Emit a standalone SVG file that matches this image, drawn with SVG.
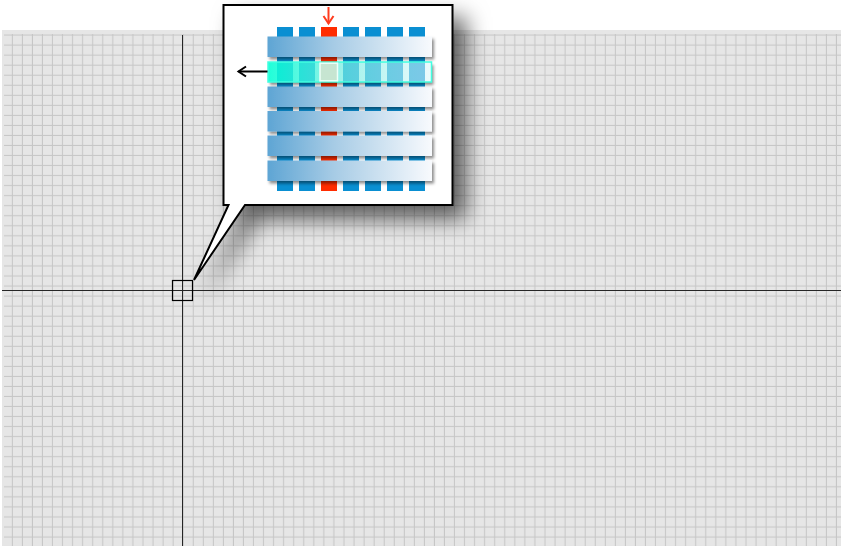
<svg xmlns="http://www.w3.org/2000/svg" width="841" height="546" viewBox="0 0 841 546">
  <style>
    .axis { stroke: #262626; stroke-width: 1; fill: none; }
    .col { fill: #0a8fd2; }
    .colred { fill: #ff2c00; }
    .band { fill: url(#bandGrad); }
  </style>
  <defs>
    <pattern id="grid" patternUnits="userSpaceOnUse" x="2.8" y="25.5" width="10.05" height="10.04">
      <line x1="10" y1="0" x2="10" y2="10.04" stroke="#c6c6c6" stroke-width="2"/>
      <line x1="0" y1="10" x2="10.05" y2="10" stroke="#c6c6c6" stroke-width="2"/>
    </pattern>
    <linearGradient id="bandGrad" x1="0" y1="0" x2="1" y2="0">
      <stop offset="0" stop-color="#5ea5d4"/>
      <stop offset="0.4" stop-color="#a6cbe5"/>
      <stop offset="1" stop-color="#f8fafd"/>
    </linearGradient>
    <linearGradient id="cyanGrad" x1="0" y1="0" x2="1" y2="0">
      <stop offset="0" stop-color="#00ffd4" stop-opacity="0.88"/>
      <stop offset="0.45" stop-color="#70ece0" stop-opacity="0.7"/>
      <stop offset="1" stop-color="#dcf6fa" stop-opacity="0.55"/>
    </linearGradient>
    <filter id="callShadow" x="-30%" y="-30%" width="170%" height="170%">
      <feDropShadow dx="13" dy="13" stdDeviation="11" flood-color="#000" flood-opacity="0.6"/>
    </filter>
    <filter id="bandShadow" x="-10%" y="-50%" width="120%" height="200%">
      <feDropShadow dx="2" dy="2.5" stdDeviation="1.5" flood-color="#000" flood-opacity="0.45"/>
    </filter>
    <filter id="shadowOnly" x="-10%" y="-50%" width="120%" height="200%">
      <feGaussianBlur in="SourceAlpha" stdDeviation="1.5"/>
      <feOffset dx="2" dy="2.5"/>
      <feComponentTransfer><feFuncA type="linear" slope="0.45"/></feComponentTransfer>
      <feComposite in2="SourceAlpha" operator="out"/>
    </filter>
  </defs>

  <g id="background">
    <rect x="0" y="0" width="841" height="546" fill="#ffffff"/>
    <rect x="2" y="30" width="839" height="516" fill="#e6e6e6"/>
    <rect x="4" y="34" width="837" height="512" fill="url(#grid)"/>
  </g>

  <g id="axes">
    <line class="axis" x1="182.5" y1="35" x2="182.5" y2="546"/>
    <line class="axis" x1="2" y1="290.5" x2="841" y2="290.5"/>
  </g>

  <g id="marker-square">
    <rect x="172.5" y="280.5" width="20" height="20" fill="none" stroke="#000" stroke-width="1.2"/>
  </g>

  <g id="callout">
    <path d="M223.5,5 H452.5 V205 H245 L194,280 L228.5,205 H223.5 Z" fill="#ffffff" stroke="#000000" stroke-width="2" stroke-linejoin="miter" filter="url(#callShadow)"/>
  </g>

  <g id="matrix">
    <g id="columns">
      <rect class="col" x="277" y="27" width="16" height="164"/>
      <rect class="col" x="299" y="27" width="16" height="164"/>
      <rect class="colred" x="321" y="27" width="16" height="164"/>
      <rect class="col" x="343" y="27" width="16" height="164"/>
      <rect class="col" x="365" y="27" width="16" height="164"/>
      <rect class="col" x="387" y="27" width="16" height="164"/>
      <rect class="col" x="409" y="27" width="16" height="164"/>
    </g>
    <g id="bands" filter="url(#bandShadow)">
      <rect class="band" x="267.5" y="36.5" width="164.5" height="20.5"/>
      <rect class="band" x="267.5" y="86.5" width="164.5" height="20.5"/>
      <rect class="band" x="267.5" y="111" width="164.5" height="20.5"/>
      <rect class="band" x="267.5" y="135.5" width="164.5" height="20.5"/>
      <rect class="band" x="267.5" y="160.5" width="164.5" height="20.5"/>
    </g>
    <g id="selected-row">
      <rect x="268" y="62" width="163.5" height="20" fill="#000" filter="url(#shadowOnly)"/>
      <rect x="268" y="62" width="163.5" height="20" fill="url(#cyanGrad)" stroke="#40ffe0" stroke-width="1.5"/>
      <rect x="320" y="63.2" width="17.5" height="17.6" fill="#c6e5d1" stroke="#eefff8" stroke-width="1.5"/>
    </g>
  </g>

  <g id="connectors">
    <g id="row-arrow" stroke="#000" stroke-width="2" fill="none">
      <line x1="267.5" y1="71.5" x2="238.5" y2="71.5"/>
      <polyline points="246,66.5 238.5,71.5 246,76.5"/>
    </g>
    <g id="col-arrow" stroke="#ff3c1e" stroke-width="2" fill="none">
      <line x1="328.5" y1="7" x2="328.5" y2="23.5"/>
      <polyline points="323.5,16 328.5,23.5 333.5,16"/>
    </g>
  </g>
</svg>
